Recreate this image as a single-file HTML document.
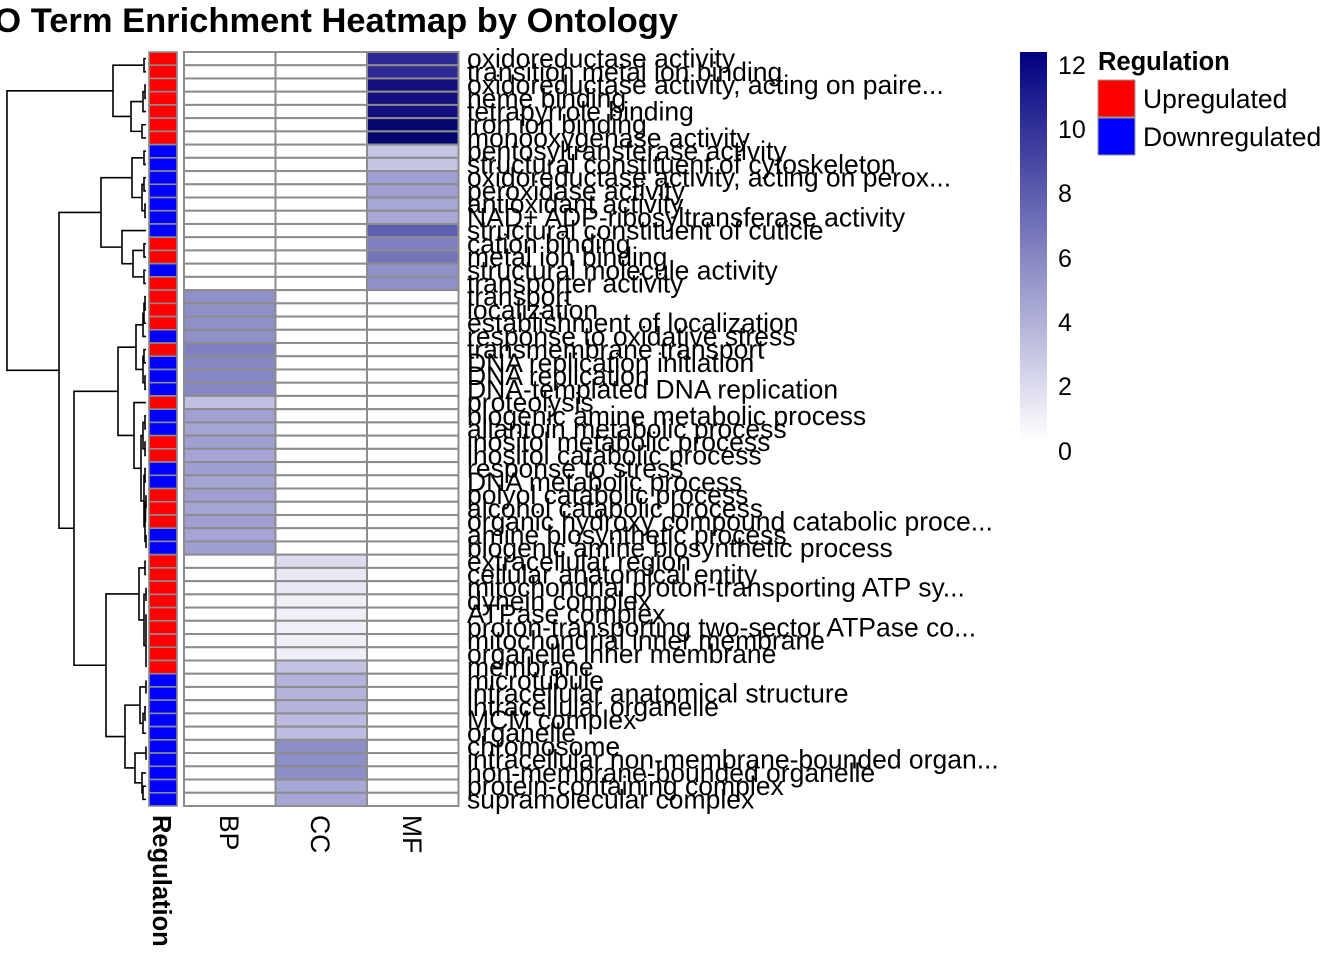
<!DOCTYPE html>
<html><head><meta charset="utf-8">
<style>
html,body{margin:0;padding:0;background:#fff;}
svg{display:block;}
text{font-family:"Liberation Sans",Arial,sans-serif;fill:#000;}
</style></head>
<body>
<svg id="s" width="1344" height="960" viewBox="0 0 1344 960" xmlns="http://www.w3.org/2000/svg">
<defs>
<linearGradient id="cb" x1="0" y1="1" x2="0" y2="0">
<stop offset="0" stop-color="#ffffff"/>
<stop offset="1" stop-color="#000080"/>
</linearGradient>
</defs>
<text x="678" y="32" font-size="34.5" font-weight="bold" text-anchor="end">GO Term Enrichment Heatmap by Ontology</text>
<g id="cells"></g>
<g id="dendro" fill="none" stroke="#000" stroke-width="1.6"></g>
<g font-size="26.5">
<text x="467" y="67.6">oxidoreductase activity</text>
<text x="467" y="80.8">transition metal ion binding</text>
<text x="467" y="94.1">oxidoreductase activity, acting on paire...</text>
<text x="467" y="107.3">heme binding</text>
<text x="467" y="120.5">tetrapyrrole binding</text>
<text x="467" y="133.7">iron ion binding</text>
<text x="467" y="147.0">monooxygenase activity</text>
<text x="467" y="160.2">pentosyltransferase activity</text>
<text x="467" y="173.4">structural constituent of cytoskeleton</text>
<text x="467" y="186.7">oxidoreductase activity, acting on perox...</text>
<text x="467" y="199.9">peroxidase activity</text>
<text x="467" y="213.1">antioxidant activity</text>
<text x="467" y="226.3">NAD+ ADP-ribosyltransferase activity</text>
<text x="467" y="239.6">structural constituent of cuticle</text>
<text x="467" y="252.8">cation binding</text>
<text x="467" y="266.0">metal ion binding</text>
<text x="467" y="279.3">structural molecule activity</text>
<text x="467" y="292.5">transporter activity</text>
<text x="467" y="305.7">transport</text>
<text x="467" y="318.9">localization</text>
<text x="467" y="332.2">establishment of localization</text>
<text x="467" y="345.4">response to oxidative stress</text>
<text x="467" y="358.6">transmembrane transport</text>
<text x="467" y="371.8">DNA replication initiation</text>
<text x="467" y="385.1">DNA replication</text>
<text x="467" y="398.3">DNA-templated DNA replication</text>
<text x="467" y="411.5">proteolysis</text>
<text x="467" y="424.8">biogenic amine metabolic process</text>
<text x="467" y="438.0">allantoin metabolic process</text>
<text x="467" y="451.2">inositol metabolic process</text>
<text x="467" y="464.4">inositol catabolic process</text>
<text x="467" y="477.7">response to stress</text>
<text x="467" y="490.9">DNA metabolic process</text>
<text x="467" y="504.1">polyol catabolic process</text>
<text x="467" y="517.4">alcohol catabolic process</text>
<text x="467" y="530.6">organic hydroxy compound catabolic proce...</text>
<text x="467" y="543.8">amine biosynthetic process</text>
<text x="467" y="557.0">biogenic amine biosynthetic process</text>
<text x="467" y="570.3">extracellular region</text>
<text x="467" y="583.5">cellular anatomical entity</text>
<text x="467" y="596.7">mitochondrial proton-transporting ATP sy...</text>
<text x="467" y="609.9">dynein complex</text>
<text x="467" y="623.2">ATPase complex</text>
<text x="467" y="636.4">proton-transporting two-sector ATPase co...</text>
<text x="467" y="649.6">mitochondrial inner membrane</text>
<text x="467" y="662.9">organelle inner membrane</text>
<text x="467" y="676.1">membrane</text>
<text x="467" y="689.3">microtubule</text>
<text x="467" y="702.5">intracellular anatomical structure</text>
<text x="467" y="715.8">intracellular organelle</text>
<text x="467" y="729.0">MCM complex</text>
<text x="467" y="742.2">organelle</text>
<text x="467" y="755.4">chromosome</text>
<text x="467" y="768.7">intracellular non-membrane-bounded organ...</text>
<text x="467" y="781.9">non-membrane-bounded organelle</text>
<text x="467" y="795.1">protein-containing complex</text>
<text x="467" y="808.4">supramolecular complex</text>
</g>
<g font-size="26.5">
<text transform="translate(220,815) rotate(90)">BP</text>
<text transform="translate(311,815) rotate(90)">CC</text>
<text transform="translate(403,815) rotate(90)">MF</text>
<text transform="translate(153,815) rotate(90)" font-weight="bold" font-size="25.5">Regulation</text>
</g>
<rect x="1020" y="52" width="27" height="389" fill="url(#cb)"/>
<g font-size="25">
<text x="1058" y="74">12</text>
<text x="1058" y="138">10</text>
<text x="1058" y="202">8</text>
<text x="1058" y="267">6</text>
<text x="1058" y="331">4</text>
<text x="1058" y="395">2</text>
<text x="1058" y="460">0</text>
</g>
<text x="1098" y="70" font-size="25.5" font-weight="bold">Regulation</text>
<rect x="1098" y="80" width="37" height="37" fill="#ff0000" stroke="#999" stroke-width="1"/>
<rect x="1098" y="118" width="37" height="37" fill="#0000ff" stroke="#999" stroke-width="1"/>
<text x="1143" y="108" font-size="26.5">Upregulated</text>
<text x="1143" y="146" font-size="26.5">Downregulated</text>
</svg>
<script>
(function(){
var top=52,h=13.228;
function cy(i){return top+(i-0.5)*h;}
var reg="RRRRRRRBBBBBBBRRBRRRRBRBBBRBBRRBBRRRBBRRRRRRRRRBBBBBBBBBB";
var W="#ffffff";
var bp={},cc={},mf={};
var mfc=["#2e2a95","#2e2a95","#140f7e","#140f7e","#140f7e","#05056e","#05056e","#c4c4e3","#c4c4e3","#9f9fd3","#9f9fd3","#a8a8d7","#a8a8d7","#5f5fb0","#7f7fc2","#7474bc","#9090cb","#9090cb"];
for(var i=0;i<18;i++)mf[i+1]=mfc[i];
var bpc=["#9090c9","#9090c9","#9090c9","#9090c9","#7f7fc2","#8686c5","#8686c5","#8686c5","#c0c0e2"];
for(i=0;i<9;i++)bp[i+19]=bpc[i];
for(i=28;i<=38;i++)bp[i]=(i%2?"#a4a4d5":"#9f9fd2");
var ccc=["#dcdcee","#e8e8f4","#e8e8f4","#efeff8","#efeff8","#efeff8","#efeff8","#efeff8","#c2c2e2","#b3b3db","#b3b3db","#b3b3db","#bcbce0","#bcbce0","#8e8ec9","#8e8ec9","#8e8ec9","#a7a7d7","#a7a7d7"];
for(i=0;i<19;i++)cc[i+39]=ccc[i];
var g=document.getElementById("cells"),html="";
for(var r=1;r<=57;r++){
 var y=top+(r-1)*h;
 html+='<rect x="149" y="'+y+'" width="28" height="'+h+'" fill="'+(reg[r-1]=="R"?"#ff0000":"#0000ff")+'" stroke="#8c8c8c" stroke-width="1.6"/>';
 var cols=[[184,bp[r]||W],[275.5,cc[r]||W],[367,mf[r]||W]];
 for(var c=0;c<3;c++)html+='<rect x="'+cols[c][0]+'" y="'+y+'" width="91.5" height="'+h+'" fill="'+cols[c][1]+'" stroke="#8c8c8c" stroke-width="2"/>';
}
g.innerHTML=html;
var A=[113,[144,1,2],[131,[143,[145,3,4],5],[142,6,7]]];
var B1=[101,[132,[144,8,9],[142,[144,10,11],[145,12,13]]],[122,14,[133,[144,15,16],[144,17,18]]]];
var B2a=[118,[136,[143,[144,[145,19,20],21],22],[143,[144,23,24],[145,25,26]]],[134,27,[141,[143,[145,28,29],[145,30,31]],[144,[145,32,33],[145,[145.5,[146,34,35],36],[146,37,38]]]]]];
var B2b=[106,[139,[145,39,40],[144,[146,41,42],[146,[146,[146,43,44],45],[146,46,47]]]],[125,[140,[146,48,49],[143,[145,50,51],52]],[135,[146,53,54],[142,55,[143,56,57]]]]];
var root=[7,A,[59,B1,[74,B2a,B2b]]];
var d="";
function draw(n){
 if(typeof n=="number")return [146,cy(n)];
 var a=draw(n[1]),b=draw(n[2]),x=n[0];
 d+="M"+a[0]+" "+a[1]+"H"+x+"V"+b[1]+"H"+b[0];
 return [x,(a[1]+b[1])/2];
}
draw(root);
document.getElementById("dendro").innerHTML='<path d="'+d+'"/>';
})();
</script>
</body></html>
